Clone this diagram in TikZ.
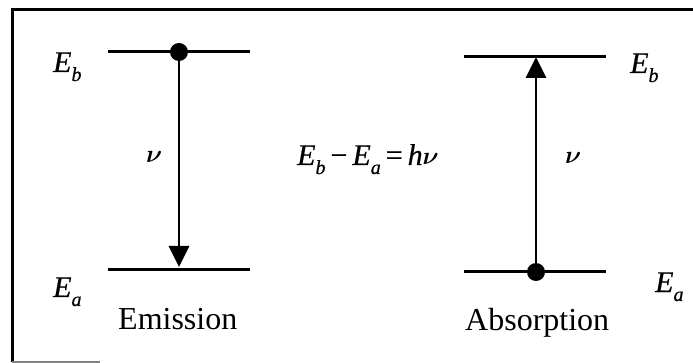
\documentclass[tikz,border=0pt]{standalone}
\usepackage{fontspec}
\setmainfont{Liberation Serif}
\newfontfamily\mathlike[FakeBold=0.6]{Liberation Serif}
\usetikzlibrary{arrows.meta}
\newcommand\lvsub[1]{\raisebox{-0.3em}{\fontsize{20}{20}\selectfont\itshape #1}}
\newcommand\Eb{\textit{E}\lvsub{b}}
\newcommand\Ea{\textit{E}\lvsub{a}}
\newcommand\nuglyph{$\boldsymbol{\nu}$}
\usepackage{amsmath}
\tikzset{
  level/.style={line width=3pt},
  frame/.style={line width=3pt},
  trans/.style={line width=2.8pt,-{Triangle[width=20pt,length=21pt]}},
  dotmark/.style={circle,fill=black,inner sep=0pt,minimum size=18pt},
  mathlbl/.style={inner sep=0pt,anchor=base west,font=\mathlike\fontsize{30}{34}\selectfont},
  wordlbl/.style={inner sep=0pt,anchor=base west,font=\fontsize{32}{38}\selectfont}
}
\begin{document}
\begin{tikzpicture}[x=1pt,y=-1pt]
\useasboundingbox (0,0) rectangle (693,363);
% frame
\coordinate (ftl) at (12,10);
\coordinate (ftr) at (693,10);
\coordinate (fbl) at (12,362);
\coordinate (fbm) at (100,362);
\draw[frame] (ftr) -- (ftl) -- (fbl);
\draw[line width=1.5pt,gray] (fbl) -- (fbm);
% emission levels
\coordinate (ebL1) at (108,52);
\coordinate (ebL2) at (250,52);
\coordinate (eaL1) at (108,270);
\coordinate (eaL2) at (250,270);
\draw[level] (ebL1) -- (ebL2);
\draw[level] (eaL1) -- (eaL2);
\node[dotmark] (emdot) at (179,52) {};
\coordinate (emtip) at (179,267);
\draw[trans] (emdot.center) -- (emtip);
% absorption levels
\coordinate (ebR1) at (464,57);
\coordinate (ebR2) at (606,57);
\coordinate (eaR1) at (464,272);
\coordinate (eaR2) at (606,272);
\draw[level] (ebR1) -- (ebR2);
\draw[level] (eaR1) -- (eaR2);
\node[dotmark] (abdot) at (536,272) {};
\coordinate (abtip) at (536,57);
\draw[trans] (abdot.center) -- (abtip);
% labels
\node[mathlbl] (lEb) at (53,72) {\Eb};
\node[mathlbl] (lEa) at (53,297) {\Ea};
\node[mathlbl] (rEb) at (630,73) {\Eb};
\node[mathlbl] (rEa) at (655,292) {\Ea};
\node[mathlbl] (lnu) at (146,163) {\nuglyph};
\node[mathlbl] (rnu) at (565,164) {\nuglyph};
\node[mathlbl] (eq) at (297,165) {\Eb\,−\,\Ea\,=\,\textit{h}\nuglyph};
\node[wordlbl] (em) at (118,329) {Emission};
\node[wordlbl] (ab) at (465,330) {Absorption};
\end{tikzpicture}
\end{document}
